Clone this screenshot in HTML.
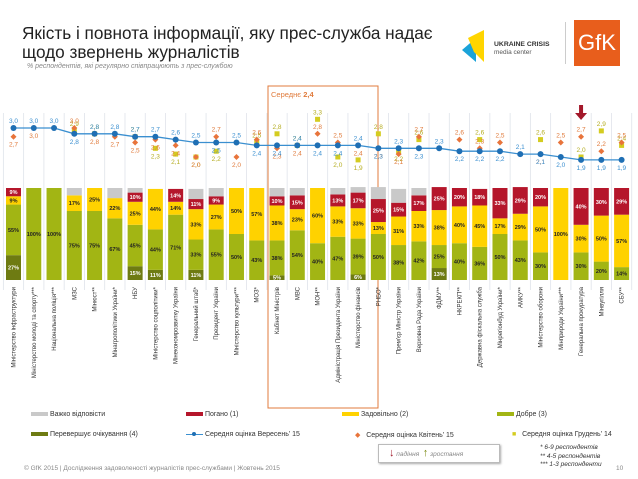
<!DOCTYPE html>
<html><head><meta charset="utf-8">
<style>
body{margin:0;width:638px;height:479px;overflow:hidden;background:#fff;font-family:"Liberation Sans",sans-serif;position:relative}
.abs{position:absolute}
</style></head><body>
<div class="abs" style="left:22px;top:24px;font-size:17.2px;line-height:19px;color:#222;white-space:nowrap">Якість і повнота інформації, яку прес-служба надає<br>щодо звернень журналістів</div>
<div class="abs" style="left:27px;top:63px;font-size:7px;font-style:italic;color:#888">% респондентів, які регулярно співпрацюють з прес-службою</div>
<svg class="abs" style="left:462px;top:30px" width="95" height="40">
<polygon points="0,20 14,8 14,32" fill="#1aa3d9"/><polygon points="6,8 22,0 22,32 12,22" fill="#ffd500"/>
<text x="32" y="16" font-size="6.8" font-weight="bold" fill="#333">UKRAINE CRISIS</text>
<text x="32" y="24" font-size="6.5" fill="#555">media center</text></svg>
<div class="abs" style="left:565px;top:22px;width:1px;height:42px;background:#ccc"></div>
<div class="abs" style="left:574px;top:20px;width:46px;height:46px;background:#e85e1c;color:#fff;font-size:22px;line-height:46px;text-align:center">GfK</div>
<svg id="chart" class="abs" style="left:0;top:0" width="638" height="479"></svg>
<script>
const categories=["Міністерство інфраструктури","Міністерство молоді та спорту***","Національна поліція***","МЗС","Мінюст**","Мінагрополітики України*","НБУ","Міністерство соцполітики*","Мінекономрозвитку України","Генеральний штаб*","Президент України","Міністерство культури***","МОЗ*","Кабінет Міністрів","МВС","МОН**","Адміністрація Президента України","Міністерство фінансів","РНБО*","Прем'єр Міністр України","Верховна Рада України","ФДМУ**","НКРЕКП**","Державна фіскальна служба","Мінрегіонбуд України*","АМКУ**","Міністерство оборони","Мінприроди України***","Генеральна прокуратура","Мінвугілля","СБУ**"];
const hard=[0,0,0,8,0,11,5,0,0,11,9,0,0,9,8,0,7,6,13,15,8,0,0,0,0,0,0,0,0,0,0];
const bad=[9,0,0,0,0,0,10,0,14,11,9,0,0,10,15,0,13,17,25,15,17,25,20,18,33,29,20,0,40,30,29];
const ok=[9,0,0,17,25,22,25,44,14,33,27,50,57,38,23,60,33,33,13,31,33,38,40,45,17,29,50,100,30,50,57];
const good=[55,100,100,75,75,67,45,44,71,33,55,50,43,38,54,40,47,39,50,38,42,25,40,36,50,43,30,0,30,20,14];
const exceed=[27,0,0,0,0,0,15,11,0,11,0,0,0,5,0,0,0,6,0,0,0,13,0,0,0,0,0,0,0,0,0];
const sep15=[3.0,3.0,3.0,2.8,2.8,2.8,2.7,2.7,2.6,2.5,2.5,2.5,2.4,2.4,2.4,2.4,2.4,2.4,2.3,2.3,2.3,2.3,2.2,2.2,2.2,2.1,2.1,2.0,1.9,1.9,1.9];
const apr15=[2.7,3.0,null,3.0,2.8,2.7,2.5,2.6,2.4,2.0,2.7,2.0,2.6,2.3,2.4,2.8,2.5,2.4,2.3,2.1,2.7,null,2.6,2.3,2.5,null,2.1,2.5,2.7,2.2,2.5];
const dec14=[null,null,null,2.9,2.8,null,2.7,2.3,2.1,2.0,2.2,null,2.5,2.8,2.4,3.3,2.0,1.9,2.8,2.2,2.6,null,null,2.6,null,null,2.6,null,2.0,2.9,2.4];

const svg=document.getElementById('chart');const NS='http://www.w3.org/2000/svg';
function mk(t,a,p){const e=document.createElementNS(NS,t);for(const k in a)e.setAttribute(k,a[k]);(p||svg).appendChild(e);return e;}
const x0=13.5,pitch=20.27,bw=15,barTop=188,barH=92;
const xc=i=>x0+i*pitch;
const yv=v=>128-(v-3)*29;
const yp=p=>barH*p/100;
const fmt=v=>v.toFixed(1).replace('.',',');
for(let i=0;i<=categories.length;i++){const l=mk('line',{x1:xc(i)-pitch/2,x2:xc(i)-pitch/2,y1:113,y2:290,stroke:'#dfe3ea','stroke-width':0.8});
}
const hb=mk('rect',{x:268,y:86,width:110,height:322,fill:'none',stroke:'#e07b3c','stroke-width':1});

const ht=mk('text',{x:271,y:97,'font-size':7.5,fill:'#e07b3c'});ht.innerHTML='Середнє <tspan font-weight="bold">2,4</tspan>';

const series=[[exceed,'#6e7b12','#fff'],[good,'#a2b514','#222'],[ok,'#ffd200','#222'],[bad,'#b5162b','#fff'],[hard,'#c9c9c9','#222']];
const segNames=['exceeds','good','satisfactory','bad','hard-to-answer'];
categories.forEach((c,i)=>{
 let y=barTop+barH;
 series.forEach((s,k)=>{const v=s[0][i];if(!v)return;const h=yp(v);y-=h;
  const r=mk('rect',{x:xc(i)-bw/2,y:y,width:bw,height:h,fill:s[1]});
  
  if(k<4&&v>=5){const t=mk('text',{x:xc(i),y:y+h/2+2,'font-size':5.5,'font-weight':'bold','text-anchor':'middle',fill:s[2]});t.textContent=v+'%';
   }
 });
 const lt=mk('text',{x:0,y:0,'font-size':6,'text-anchor':'end',fill:'#333',transform:`translate(${xc(i)+2},${287}) rotate(-90)`});lt.textContent=c;
 
});
const pl=mk('polyline',{points:sep15.map((v,i)=>xc(i)+','+yv(v)).join(' '),fill:'none',stroke:'#3a8fd0','stroke-width':1.3});

categories.forEach((c,i)=>{
 const a=apr15[i],d=dec14[i],s=sep15[i];
 if(d!=null){const r=mk('rect',{x:xc(i)-2.5,y:yv(d)-2.5,width:5,height:5,fill:'#d4cc20'});
  const t=mk('text',{x:xc(i),y:d>=s?yv(d)-5:yv(d)+10,'font-size':6.5,'text-anchor':'middle',fill:'#b5ad22'});t.textContent=fmt(d);}
 if(a!=null){const r=mk('path',{d:`M${xc(i)-3},${yv(a)} L${xc(i)},${yv(a)-3} L${xc(i)+3},${yv(a)} L${xc(i)},${yv(a)+3}Z`,fill:'#e8743b'});
  const t=mk('text',{x:xc(i),y:a>s?yv(a)-5:yv(a)+10,'font-size':6.5,'text-anchor':'middle',fill:'#e07b3c'});t.textContent=fmt(a);}
 const ci=mk('circle',{cx:xc(i),cy:yv(s),r:3,fill:'#1f6fb4'});
 const t=mk('text',{x:xc(i),y:(a!=null&&a>s)||(d!=null&&d>s)?yv(s)+10:yv(s)-5,'font-size':6.5,'text-anchor':'middle',fill:'#3a8fd0'});t.textContent=fmt(s);
});
const ar=mk('path',{d:`M${xc(28)-2},105 h4 v8 h4 l-6,7 l-6,-7 h4z`,fill:'#a3182a'});
</script>
<div class="abs" style="left:0;top:408px;width:638px;height:40px;font-size:7px;color:#333">
 <div class="abs" style="left:31px;top:3px"><span style="display:inline-block;width:17px;height:4px;background:#c9c9c9;vertical-align:middle"></span> Важко відповісти</div>
 <div class="abs" style="left:186px;top:3px"><span style="display:inline-block;width:17px;height:4px;background:#b5162b;vertical-align:middle"></span> Погано (1)</div>
 <div class="abs" style="left:342px;top:3px"><span style="display:inline-block;width:17px;height:4px;background:#ffd200;vertical-align:middle"></span> Задовільно (2)</div>
 <div class="abs" style="left:497px;top:3px"><span style="display:inline-block;width:17px;height:4px;background:#a2b514;vertical-align:middle"></span> Добре (3)</div>
 <div class="abs" style="left:31px;top:23px"><span style="display:inline-block;width:17px;height:4px;background:#6e7b12;vertical-align:middle"></span> Перевершує очікування (4)</div>
 <div class="abs" style="left:186px;top:23px"><span style="display:inline-block;width:17px;height:1px;background:#3a8fd0;vertical-align:middle;position:relative"><span style="position:absolute;left:6px;top:-2px;width:4px;height:4px;border-radius:2px;background:#1f6fb4"></span></span> Середня оцінка Вересень' 15</div>
 <div class="abs" style="left:355px;top:23px"><span style="color:#e8743b">◆</span>&nbsp;&nbsp; Середня оцінка Квітень' 15</div>
 <div class="abs" style="left:512px;top:23px"><span style="color:#d4cc20">■</span>&nbsp;&nbsp; Середня оцінка Грудень' 14</div>
</div>
<div class="abs" style="left:378px;top:444px;width:120px;height:17px;border:1px solid #bbb;box-shadow:1px 1px 2px #aaa;font-size:6.5px;font-style:italic;color:#888;line-height:17px">
 <span style="color:#a3182a;margin-left:10px;font-size:11px;font-weight:bold;font-style:normal">↓</span> падіння &nbsp;<span style="color:#7a8a12;font-size:11px;font-weight:bold;font-style:normal">↑</span> зростання</div>
<div class="abs" style="left:540px;top:444px;font-size:6.5px;font-style:italic;color:#333;line-height:8.5px">* 6-9 респондентів<br>** 4-5 респондентів<br>*** 1-3 респонденти</div>
<div class="abs" style="left:24px;top:465px;font-size:6.5px;color:#888">© GfK 2015 | Дослідження задоволеності журналістів прес-службами | Жовтень 2015</div>
<div class="abs" style="left:616px;top:465px;font-size:6.5px;color:#888">10</div>
</body></html>
